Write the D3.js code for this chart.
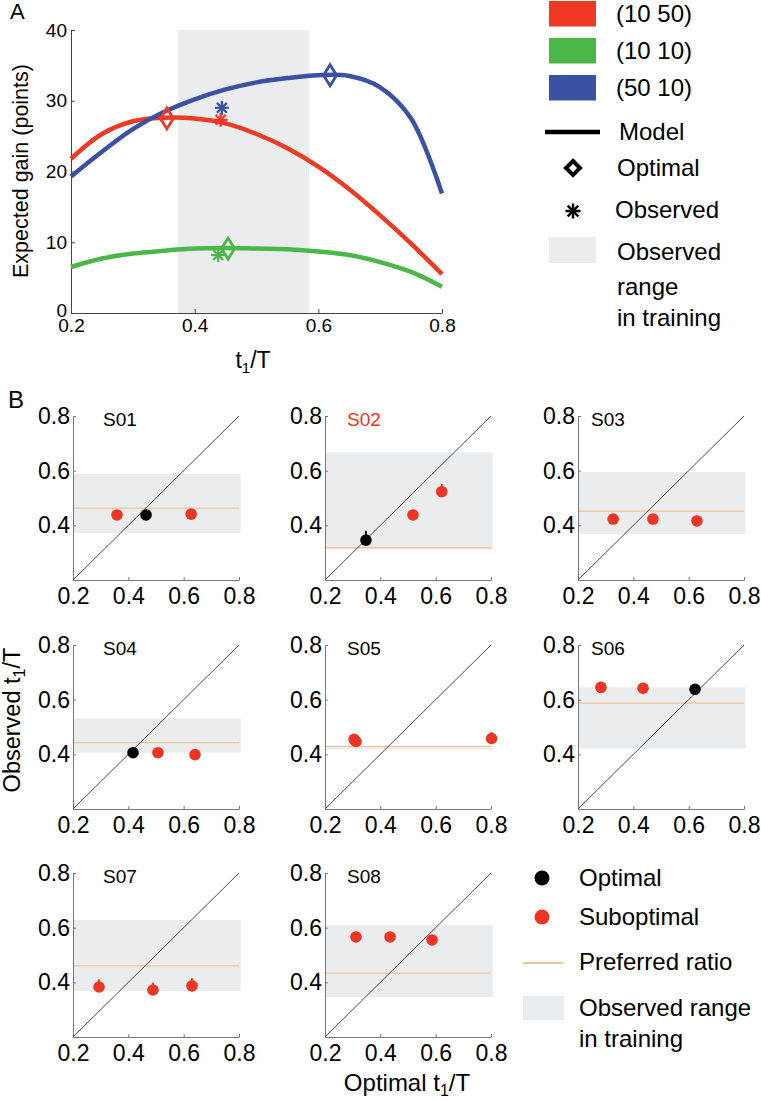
<!DOCTYPE html>
<html>
<head>
<meta charset="utf-8">
<script src="https://cdn.jsdelivr.net/npm/d3@7"></script>
<style>
  html, body { margin: 0; padding: 0; background: #fff; }
  svg { display: block; font-family: "Liberation Sans", Arial, Helvetica, sans-serif; }
</style>
</head>
<body>
<svg id="chart" width="761" height="1100"></svg>
<script>
// ---------------- Panel A data ----------------
const gainX      = [0.2, 0.25, 0.3, 0.35, 0.4, 0.45, 0.5, 0.55, 0.6, 0.65, 0.7, 0.75, 0.8];
const gainRed    = [21.8, 25.3, 27.1, 27.6, 27.5, 26.8, 25.3, 23.3, 20.7, 17.5, 13.8, 9.8, 5.5];
const gainGreen  = [6.5, 7.7, 8.4, 8.8, 9.1, 9.2, 9.1, 9.0, 8.7, 8.2, 7.2, 5.8, 3.7];
const gainBlue   = [19.3, 22.8, 26.0, 28.4, 30.2, 31.6, 32.6, 33.2, 33.6, 33.5, 31.9, 27.5, 16.9];
const conditions = ["(10 50)", "(10 10)", "(50 10)"];
const optimalX   = [0.355, 0.454, 0.619];
const optimalY   = [27.5, 9.1, 33.6];
const observedX  = [0.442, 0.438, 0.444];
const observedY  = [27.3, 8.2, 29.0];
const trainingRangeA = [0.373, 0.585];
const ticksAx = [0.2, 0.4, 0.6, 0.8];
const ticksAy = [0, 10, 20, 30, 40];

// ---------------- Panel B data ----------------
const subjects   = ["S01", "S02", "S03", "S04", "S05", "S06", "S07", "S08"];
const optimalT   = [[0.359, 0.464, 0.627], [0.348, 0.518, 0.622], [0.327, 0.471, 0.630],
                    [0.417, 0.507, 0.641], [0.305, 0.312, 0.802], [0.283, 0.435, 0.623],
                    [0.294, 0.489, 0.630], [0.312, 0.435, 0.587]];
const observedT  = [[0.438, 0.438, 0.441], [0.346, 0.438, 0.523], [0.423, 0.423, 0.416],
                    [0.406, 0.406, 0.399], [0.455, 0.447, 0.458], [0.645, 0.642, 0.638],
                    [0.383, 0.372, 0.387], [0.566, 0.566, 0.555]];
const observedErr= [[0, 0, 0], [0.034, 0, 0.028], [0, 0, 0],
                    [0, 0, 0], [0, 0, 0.024], [0, 0, 0],
                    [0.028, 0.027, 0.028], [0, 0, 0]];
const isOptimal  = [[0, 1, 0], [1, 0, 0], [0, 0, 0], [1, 0, 0], [0, 0, 0], [0, 0, 1], [0, 0, 0], [0, 0, 0]];
const rangeLow   = [0.372, 0.312, 0.368, 0.406, 0.418, 0.421, 0.368, 0.346];
const rangeHigh  = [0.588, 0.667, 0.595, 0.531, 0.430, 0.645, 0.628, 0.610];
const preferred  = [0.463, 0.318, 0.452, 0.443, 0.429, 0.587, 0.460, 0.434];
const titleColor = ["#000", "#ee3524", "#000", "#000", "#000", "#000", "#000", "#000"];
const ticksBx = [0.2, 0.4, 0.6, 0.8];
const ticksBy = [0.4, 0.6, 0.8];

const colors = ["#ee3a24", "#4bb748", "#3b51a3"];
const gainSeries = [gainRed, gainGreen, gainBlue];
const RED = "#ee3524", BAND = "#ebeced", ORANGE = "#f6c597";

const svg = d3.select("#chart");

// ================= Panel A =================
const xA = d3.scaleLinear().domain([0.2, 0.8]).range([71, 442]);
const yA = d3.scaleLinear().domain([0, 40]).range([313, 30]);
const gA = svg.append("g");

gA.append("rect")
  .attr("x", xA(trainingRangeA[0])).attr("y", yA(40))
  .attr("width", xA(trainingRangeA[1]) - xA(trainingRangeA[0]))
  .attr("height", yA(0) - yA(40))
  .attr("fill", BAND);

const axAx = gA.append("g").attr("transform", `translate(0,${yA(0)})`)
  .call(d3.axisBottom(xA).tickValues(ticksAx).tickFormat(d3.format(".1f"))
        .tickSizeInner(-4).tickSizeOuter(0).tickPadding(6));
const axAy = gA.append("g").attr("transform", `translate(${xA(0.2)},0)`)
  .call(d3.axisLeft(yA).tickValues(ticksAy).tickFormat(d3.format("d"))
        .tickSizeInner(-4).tickSizeOuter(0).tickPadding(4));
[axAx, axAy].forEach(a => {
  a.select(".domain").attr("stroke", "#444").attr("stroke-width", 1);
  a.selectAll(".tick line").attr("stroke", "#444");
  a.selectAll(".tick text").attr("font-size", 19).attr("fill", "#000")
    .style("font-family", "'Liberation Sans', Arial, sans-serif");
});
axAy.selectAll(".tick text").filter(d => d === 0).attr("dy", "0.2em");

const lineA = d3.line().x((d, i) => xA(gainX[i])).y(d => yA(d)).curve(d3.curveCatmullRom.alpha(0.5));
[1, 0, 2].forEach(k => {
  gA.append("path").datum(gainSeries[k]).attr("d", lineA)
    .attr("fill", "none").attr("stroke", colors[k]).attr("stroke-width", 4.5);
});

function diamond(g, cx, cy, hw, hh, color, sw) {
  g.append("path")
    .attr("d", `M${cx},${cy - hh}L${cx + hw},${cy}L${cx},${cy + hh}L${cx - hw},${cy}Z`)
    .attr("fill", "none").attr("stroke", color).attr("stroke-width", sw).attr("stroke-linejoin", "miter");
}
function star(g, cx, cy, r, color, sw) {
  [0, 45, 90, 135].forEach(a => {
    const t = a * Math.PI / 180;
    g.append("line")
      .attr("x1", cx - r * Math.cos(t)).attr("y1", cy - r * Math.sin(t))
      .attr("x2", cx + r * Math.cos(t)).attr("y2", cy + r * Math.sin(t))
      .attr("stroke", color).attr("stroke-width", sw);
  });
}
[1, 0, 2].forEach(k => {
  star(gA, xA(observedX[k]), yA(observedY[k]), 7, colors[k], 2.2);
  diamond(gA, xA(optimalX[k]), yA(optimalY[k]), 6.5, 10.5, colors[k], 2.8);
});

// Panel A labels
svg.append("text").attr("x", 10).attr("y", 19).attr("font-size", 22).text("A");
svg.append("text").attr("transform", "translate(28,171) rotate(-90)")
  .attr("text-anchor", "middle").attr("font-size", 21.5).text("Expected gain (points)");
const xlabA = svg.append("text").attr("x", 253).attr("y", 368).attr("text-anchor", "middle").attr("font-size", 23);
xlabA.append("tspan").text("t");
xlabA.append("tspan").attr("font-size", 15).attr("dy", 5).text("1");
xlabA.append("tspan").attr("dy", -5).text("/T");

// Legend A
const legA = svg.append("g");
const legRectY = [1, 38, 75];
conditions.forEach((c, i) => {
  legA.append("rect").attr("x", 549).attr("y", legRectY[i]).attr("width", 47).attr("height", 25.5).attr("fill", colors[i]);
  legA.append("text").attr("x", 616).attr("y", legRectY[i] + 13).attr("dy", "0.35em").attr("font-size", 24).text(c);
});
legA.append("line").attr("x1", 545).attr("x2", 600).attr("y1", 132).attr("y2", 132).attr("stroke", "#000").attr("stroke-width", 4.5);
legA.append("text").attr("x", 619).attr("y", 132).attr("dy", "0.35em").attr("font-size", 24).text("Model");
diamond(legA, 573, 168, 7, 7, "#000", 4);
legA.append("text").attr("x", 617).attr("y", 168).attr("dy", "0.35em").attr("font-size", 24).text("Optimal");
star(legA, 573, 211, 7.5, "#000", 2.5);
legA.append("text").attr("x", 615).attr("y", 210).attr("dy", "0.35em").attr("font-size", 24).text("Observed");
legA.append("rect").attr("x", 549).attr("y", 237).attr("width", 47).attr("height", 26).attr("fill", BAND);
["Observed", "range", "in training"].forEach((t, i) => {
  legA.append("text").attr("x", 617).attr("y", [252, 287, 318][i]).attr("dy", "0.35em").attr("font-size", 24).text(t);
});

// ================= Panel B =================
svg.append("text").attr("x", 8).attr("y", 408).attr("font-size", 24).text("B");
const colLeft = [73, 325, 578];
const rowTop = [416, 645, 873];
const W = 166, H = 164;
const titleOffset = [30, 22, 13];

subjects.forEach((s, si) => {
  const col = si % 3, row = Math.floor(si / 3);
  const x0 = colLeft[col], y0 = rowTop[row];
  const x = d3.scaleLinear().domain([0.2, 0.8]).range([x0, x0 + W]);
  const y = d3.scaleLinear().domain([0.2, 0.8]).range([y0 + H, y0]);
  const g = svg.append("g");

  g.append("rect").attr("x", x(0.2)).attr("y", y(rangeHigh[si]))
    .attr("width", x(0.806) - x(0.2)).attr("height", y(rangeLow[si]) - y(rangeHigh[si]))
    .attr("fill", BAND);
  g.append("line").attr("x1", x(0.2)).attr("x2", x(0.8))
    .attr("y1", y(preferred[si])).attr("y2", y(preferred[si]))
    .attr("stroke", ORANGE).attr("stroke-width", 1.3);

  const ax = g.append("g").attr("transform", `translate(0,${y(0.2)})`)
    .call(d3.axisBottom(x).tickValues(ticksBx).tickFormat(d3.format(".1f"))
          .tickSizeInner(-3).tickSizeOuter(0).tickPadding(8));
  const ay = g.append("g").attr("transform", `translate(${x(0.2)},0)`)
    .call(d3.axisLeft(y).tickValues(ticksBy).tickFormat(d3.format(".1f"))
          .tickSizeInner(-3).tickSizeOuter(0).tickPadding(3));
  [ax, ay].forEach(a => {
    a.select(".domain").attr("stroke", "#777").attr("stroke-width", 1);
    a.selectAll(".tick line").attr("stroke", "#777");
    a.selectAll(".tick text").attr("font-size", 23).attr("fill", "#000")
      .style("font-family", "'Liberation Sans', Arial, sans-serif");
  });

  g.append("line").attr("x1", x(0.2)).attr("y1", y(0.2)).attr("x2", x(0.8)).attr("y2", y(0.8))
    .attr("stroke", "#333").attr("stroke-width", 0.9);

  g.append("text").attr("x", x0 + titleOffset[col]).attr("y", y0 + 3).attr("dy", "0.35em")
    .attr("font-size", 19).attr("fill", titleColor[si]).text(s);

  optimalT[si].forEach((ox, j) => {
    const c = isOptimal[si][j] ? "#000" : RED;
    const e = observedErr[si][j];
    if (e > 0) {
      g.append("line").attr("x1", x(ox)).attr("x2", x(ox))
        .attr("y1", y(observedT[si][j])).attr("y2", y(observedT[si][j] + e))
        .attr("stroke", c).attr("stroke-width", 2);
    }
    g.append("circle").attr("cx", x(ox)).attr("cy", y(observedT[si][j])).attr("r", 5.8).attr("fill", c);
  });
});

// Axis labels B
const ylabB = svg.append("text").attr("transform", "translate(20,720) rotate(-90)")
  .attr("text-anchor", "middle").attr("font-size", 23.5);
ylabB.append("tspan").text("Observed t");
ylabB.append("tspan").attr("font-size", 16).attr("dy", 5).text("1");
ylabB.append("tspan").attr("dy", -5).text("/T");
const xlabB = svg.append("text").attr("x", 407).attr("y", 1091).attr("text-anchor", "middle").attr("font-size", 24);
xlabB.append("tspan").text("Optimal t");
xlabB.append("tspan").attr("font-size", 16).attr("dy", 5).text("1");
xlabB.append("tspan").attr("dy", -5).text("/T");

// Legend B
const legB = svg.append("g");
legB.append("circle").attr("cx", 542).attr("cy", 878).attr("r", 7.5).attr("fill", "#000");
legB.append("text").attr("x", 579).attr("y", 878).attr("dy", "0.35em").attr("font-size", 24).text("Optimal");
legB.append("circle").attr("cx", 542).attr("cy", 917).attr("r", 7.5).attr("fill", RED);
legB.append("text").attr("x", 579).attr("y", 917).attr("dy", "0.35em").attr("font-size", 24).text("Suboptimal");
legB.append("line").attr("x1", 523).attr("x2", 563).attr("y1", 963).attr("y2", 963).attr("stroke", ORANGE).attr("stroke-width", 2);
legB.append("text").attr("x", 579).attr("y", 962).attr("dy", "0.35em").attr("font-size", 24).text("Preferred ratio");
legB.append("rect").attr("x", 523).attr("y", 996).attr("width", 41).attr("height", 24).attr("fill", BAND);
legB.append("text").attr("x", 579).attr("y", 1008).attr("dy", "0.35em").attr("font-size", 24).text("Observed range");
legB.append("text").attr("x", 579).attr("y", 1039).attr("dy", "0.35em").attr("font-size", 24).text("in training");
</script>
</body>
</html>
